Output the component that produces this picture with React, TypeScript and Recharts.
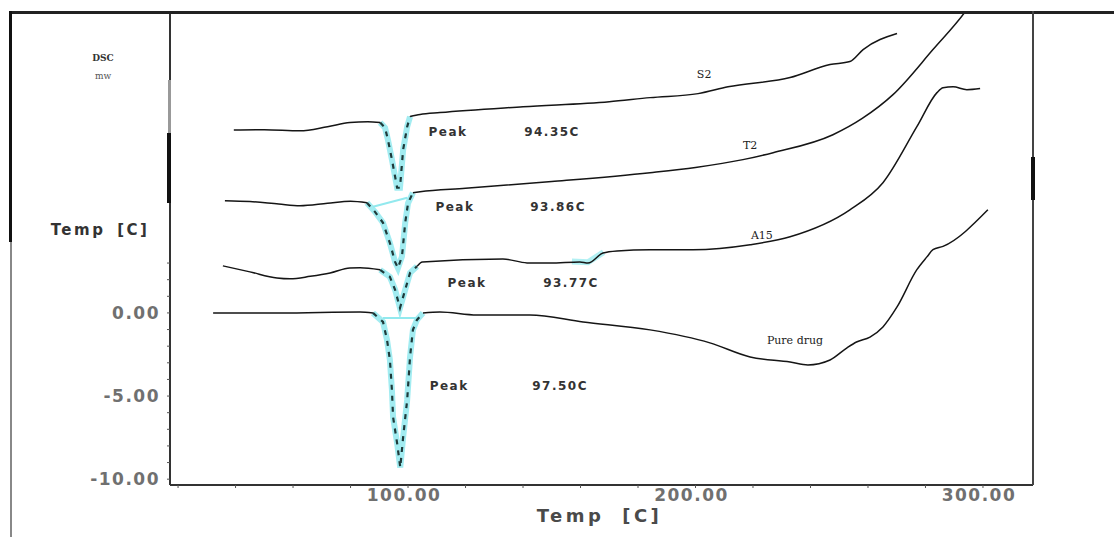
import React from 'react'
import { ComposedChart, Line, Scatter, XAxis, YAxis } from 'recharts'

// DSC thermograms: [temperature, heat flow] pairs
type Pt = [number, number]

const s2Curve: Pt[] = [
  [39.4, 11.0], [50, 11.02], [62.4, 10.95], [72, 11.2], [79.8, 11.45], [86, 11.5], [90.3, 11.45],
  [92.0, 11.14], [93.0, 10.42], [94.4, 9.22], [95.5, 8.2], [96.2, 7.53], [97.2, 7.53], [98.3, 9.82],
  [99.7, 11.2], [100.7, 11.81], [104.2, 11.93], [111.1, 12.05], [140, 12.4], [170, 12.7],
  [184.2, 12.95], [200.9, 13.19], [211.3, 13.6], [232.9, 14.16], [246.8, 14.94], [253.7, 15.12],
  [258.3, 15.84], [270.1, 16.81],
]

const t2Curve: Pt[] = [
  [36.3, 6.75], [45, 6.7], [55, 6.55], [62.4, 6.45], [72, 6.6], [80, 6.72], [85.7, 6.63],
  [88.5, 6.08], [91.3, 5.42], [93.7, 4.2], [95.5, 3.07], [96.5, 2.7], [97.9, 3.4], [99, 5.4],
  [100, 6.6], [101.7, 7.23], [104.2, 7.29], [120, 7.5], [150, 7.9], [184.2, 8.43], [200, 8.75],
  [216.5, 9.22], [227, 9.64], [247.8, 10.72], [258, 11.7], [268.7, 13.13], [282.6, 15.84],
  [294.4, 18.25], [297, 18.9],
]

const a15Curve: Pt[] = [
  [35.6, 2.83], [45, 2.47], [54.4, 2.1], [59, 2.05], [66, 2.2], [72.9, 2.4], [79.8, 2.7],
  [83.3, 2.71], [90.3, 2.59], [93.7, 2.17], [95.5, 1.39], [97.2, 0.3], [99, 1.39], [100.7, 2.41],
  [103.1, 2.8], [105, 3.07], [133, 3.25], [141.4, 3.01], [149.4, 3.0], [159.8, 3.07], [162.6, 3.0],
  [167.8, 3.6], [172.7, 3.73], [184.2, 3.8], [199.1, 3.8], [219, 4.1], [232.9, 4.58], [253.7, 6.2],
  [265.2, 7.83], [277, 11.2], [284, 13.25], [286.1, 13.55], [289.6, 13.6], [294.4, 13.43], [299, 13.5],
]

const pureCurve: Pt[] = [
  [32.2, 0.0], [55.5, 0.0], [83.3, 0.06], [87.8, 0.0], [91.3, -0.54], [92.7, -1.63], [93.7, -2.83],
  [94.4, -4.64], [94.8, -6.27], [96.2, -7.83], [97.3, -9.3], [98.3, -7.47], [99.7, -5.24],
  [100.7, -2.65], [101.7, -1.02], [103.1, -0.42], [105.2, 0.0], [111.1, 0.06], [124, -0.12],
  [142.4, -0.12], [160.9, -0.54], [184.2, -1.02], [205, -1.8], [219, -2.65], [232.9, -2.95],
  [239.1, -3.13], [246.8, -2.83], [252.7, -2.1], [256, -1.75], [260.7, -1.45], [265.2, -0.84],
  [270.1, 0.36], [277, 2.6], [280.5, 3.37], [282.6, 3.8], [286.1, 4.0], [301.7, 6.2],
]

// integration baselines drawn by the instrument software (cyan)
const pureBaseline: Pt[] = [[91.3, -0.3], [103.5, -0.3]]
const t2Baseline: Pt[] = [[87.8, 6.39], [99.7, 6.93]]
const a15Shoulder: Pt[] = [[157, 3.1], [162.6, 3.05], [168, 3.65]]

const xTicks = [20, 40, 60, 80, 100, 120, 140, 160, 180, 200, 220, 240, 260, 280, 300]
const xLabelled = [100, 200, 300]
const yTicks = [-10, -9, -8, -7, -6, -5, -4, -3, -2, -1, 0, 1, 2, 3]
const yLabelled = [0, -5, -10]

const peakNotes = [
  { t: 113.9, v: 10.9, text: 'Peak' }, { t: 150.1, v: 10.9, text: '94.35C' },
  { t: 116.3, v: 6.39, text: 'Peak' }, { t: 152.2, v: 6.39, text: '93.86C' },
  { t: 120.5, v: 1.81, text: 'Peak' }, { t: 156.7, v: 1.81, text: '93.77C' },
  { t: 114.3, v: -4.4, text: 'Peak' }, { t: 152.9, v: -4.4, text: '97.50C' },
]

const sampleNotes = [
  { t: 203, v: 14.34, text: 'S2' },
  { t: 219, v: 10.06, text: 'T2' },
  { t: 223.1, v: 4.64, text: 'A15' },
  { t: 234.6, v: -1.63, text: 'Pure drug' },
]

const curves = [
  { key: 's2', pts: s2Curve, dip: [90.3, 100.7] },
  { key: 't2', pts: t2Curve, dip: [85.7, 101.7] },
  { key: 'a15', pts: a15Curve, dip: [90.3, 103.1] },
  { key: 'pure', pts: pureCurve, dip: [87.8, 105.2] },
]

const rows = (pts: Pt[]) => pts.map(([t, v]) => ({ t, v }))
const part = (pts: Pt[], lo: number, hi: number) => rows(pts.filter(([t]) => t >= lo && t <= hi))

const CYAN = '#92e9ee'
const tickFont = { fill: '#707070', fontSize: 17, fontFamily: 'DejaVu Sans', fontWeight: 'bold', letterSpacing: 1.5 }

const bar = (left: number, top: number, width: number, height: number, bg: string): React.CSSProperties => ({
  position: 'absolute', left, top, width, height, background: bg,
})

export default function App() {
  return (
    <div style={{ position: 'absolute', left: 0, top: 0, width: 1114, height: 537, background: '#fff' }}>
      <ComposedChart width={1114} height={537} margin={{ top: 12, right: 81, bottom: 0, left: 0 }}>
        <XAxis
          type="number" dataKey="t" domain={[17.2, 317.4]} allowDataOverflow ticks={xTicks}
          tickFormatter={(x: number) => (xLabelled.includes(x) ? x.toFixed(2) : '')}
          height={52} tickSize={3} tickMargin={1}
          axisLine={{ stroke: '#333', strokeWidth: 2 }} tickLine={{ stroke: '#555' }}
          tick={{ ...tickFont, dx: -4 }}
          label={{
            content: ({ viewBox }: any) => (
              <text x={viewBox.x + viewBox.width / 2 - 2} y={viewBox.y + 37} textAnchor="middle"
                fill="#4a4a4a" fontSize={18} fontWeight="bold" fontFamily="DejaVu Sans"
                letterSpacing={3.5} wordSpacing={8}>Temp [C]</text>
            ),
          }}
        />
        <YAxis
          type="number" domain={[-10.35, 18.1]} allowDataOverflow ticks={yTicks}
          tickFormatter={(y: number) => (yLabelled.includes(y) ? y.toFixed(2) : '')}
          width={170} tickSize={3} tickMargin={7}
          axisLine={{ stroke: '#333', strokeWidth: 2 }} tickLine={{ stroke: '#555' }}
          tick={tickFont}
          label={{
            content: ({ viewBox }: any) => (
              <g>
                <text x={viewBox.x + 103} y={viewBox.y + 49} textAnchor="middle" fill="#333"
                  fontSize={9} fontFamily="DejaVu Serif" fontWeight="bold">DSC</text>
                <text x={viewBox.x + 103} y={viewBox.y + 67} textAnchor="middle" fill="#555"
                  fontSize={9} fontFamily="DejaVu Serif">mw</text>
                <text x={viewBox.x + 100} y={viewBox.y + 223} textAnchor="middle" fill="#333"
                  fontSize={15} fontWeight="bold" fontFamily="DejaVu Sans" letterSpacing={2.5}
                  wordSpacing={4}>Temp [C]</text>
              </g>
            ),
          }}
        />

        {curves.map((c) => (
          <Line key={c.key + '-cyan'} data={part(c.pts, c.dip[0], c.dip[1])} dataKey="v" type="linear"
            stroke={CYAN} strokeWidth={6} strokeOpacity={0.85} dot={false} activeDot={false}
            isAnimationActive={false} />
        ))}
        <Line data={rows(pureBaseline)} dataKey="v" type="linear" stroke={CYAN} strokeWidth={2}
          dot={false} activeDot={false} isAnimationActive={false} />
        <Line data={rows(t2Baseline)} dataKey="v" type="linear" stroke={CYAN} strokeWidth={2}
          dot={false} activeDot={false} isAnimationActive={false} />
        <Line data={rows(a15Shoulder)} dataKey="v" type="linear" stroke={CYAN} strokeWidth={6}
          strokeOpacity={0.7} dot={false} activeDot={false} isAnimationActive={false} />

        {curves.map((c) => (
          <Line key={c.key + '-pre'} data={part(c.pts, -Infinity, c.dip[0])} dataKey="v" type="monotone"
            stroke="#151515" strokeWidth={1.5} dot={false} activeDot={false} isAnimationActive={false} />
        ))}
        {curves.map((c) => (
          <Line key={c.key + '-post'} data={part(c.pts, c.dip[1], Infinity)} dataKey="v" type="monotone"
            stroke="#151515" strokeWidth={1.5} dot={false} activeDot={false} isAnimationActive={false} />
        ))}
        {curves.map((c) => (
          <Line key={c.key + '-dip'} data={part(c.pts, c.dip[0], c.dip[1])} dataKey="v" type="linear"
            stroke="#1f3a3a" strokeWidth={2.2} strokeDasharray="5 6" dot={false} activeDot={false}
            isAnimationActive={false} />
        ))}

        <Scatter data={peakNotes} dataKey="v" isAnimationActive={false}
          shape={(p: any) => (
            <text x={p.cx} y={p.cy} textAnchor="middle" dominantBaseline="central" fill="#333"
              fontSize={12} fontWeight="bold" fontFamily="DejaVu Sans" letterSpacing={1.5}>
              {p.payload.text}
            </text>
          )}
        />
        <Scatter data={sampleNotes} dataKey="v" isAnimationActive={false}
          shape={(p: any) => (
            <text x={p.cx} y={p.cy} textAnchor="middle" dominantBaseline="central" fill="#222"
              fontSize={11} fontFamily="DejaVu Serif">
              {p.payload.text}
            </text>
          )}
        />
      </ComposedChart>

      {/* scanned frame around the figure */}
      <div style={bar(10, 11, 1104, 3, '#222')} />
      <div style={bar(9, 11, 3, 231, '#111')} />
      <div style={bar(10, 242, 2, 295, '#888')} />
      <div style={bar(1032, 11, 2, 474, '#444')} />
      <div style={bar(1031, 157, 4, 43, '#111')} />
      <div style={bar(168, 80, 3, 53, '#999')} />
      <div style={bar(167, 133, 4, 70, '#111')} />
    </div>
  )
}
